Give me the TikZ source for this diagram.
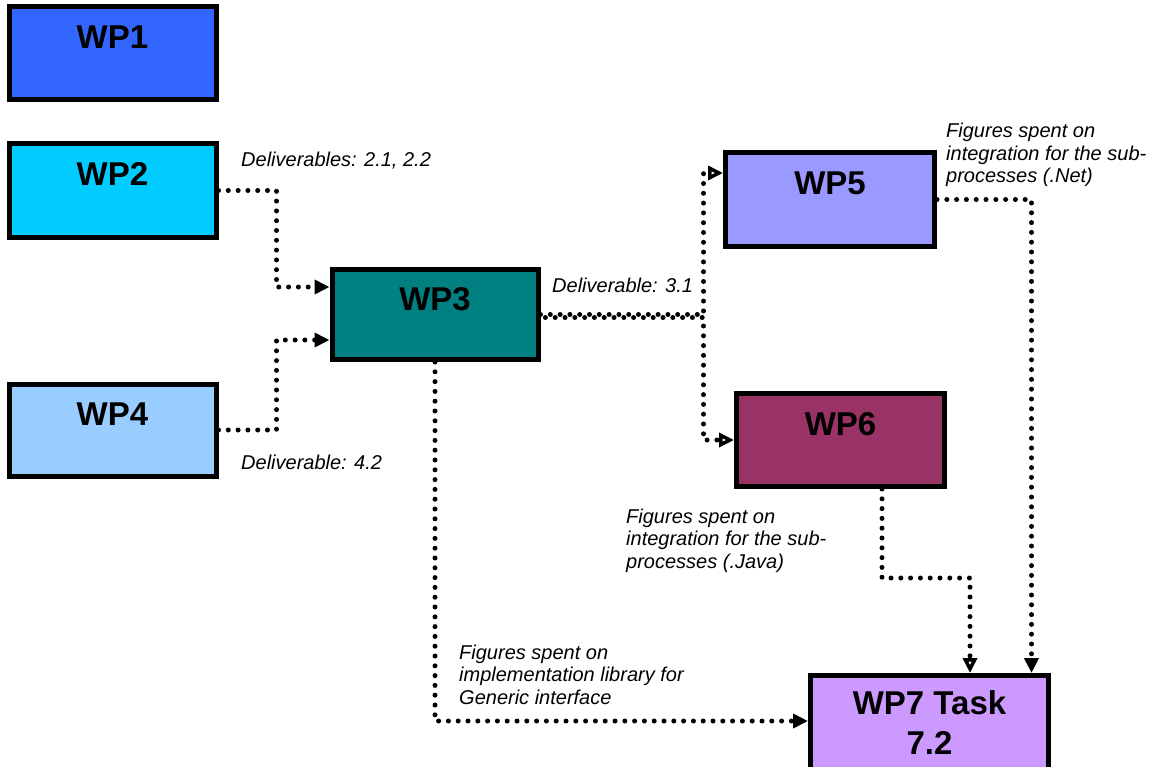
\documentclass[tikz,border=0pt]{standalone}
\usepackage{fontspec}
\setmainfont{Liberation Sans}
\usetikzlibrary{arrows.meta,calc}
\definecolor{wpone}{HTML}{3366FF}
\definecolor{wptwo}{HTML}{00CCFF}
\definecolor{wpthree}{HTML}{008080}
\definecolor{wpfour}{HTML}{99CCFF}
\definecolor{wpfive}{HTML}{9999FF}
\definecolor{wpsix}{HTML}{993366}
\definecolor{wpseven}{HTML}{CC99FF}
\tikzset{
  boxbase/.style={draw=black, line width=5pt, anchor=north west,
    font=\fontsize{33}{40}\selectfont\bfseries},
  wpbox/.style={boxbase, text height=24pt, text depth=33pt},
  link/.style={line width=5pt, line cap=round, dash pattern=on 0pt off 9.8pt},
  fhead/.style={-{Triangle[length=15pt,width=14pt]}},
  ohead/.style={-{Triangle[open,length=15pt,width=14pt,line width=3.5pt]}},
  note/.style={font=\fontsize{20}{22.3}\selectfont\itshape, anchor=base west,
    align=left, inner sep=0pt}
}
\begin{document}
\begin{tikzpicture}[x=1pt,y=-1pt]
\useasboundingbox (0,0) rectangle (1155,767);
% boxes
\node[wpbox, fill=wpone, minimum width=207pt, minimum height=93pt] (WP1) at (6.5,4.5) {WP1};
\node[wpbox, fill=wptwo, minimum width=207pt, minimum height=93pt] (WP2) at (6.5,141.5) {WP2};
\node[wpbox, fill=wpfour, minimum width=207pt, minimum height=92pt] (WP4) at (6.5,381.5) {WP4};
\node[wpbox, fill=wpthree, minimum width=206pt, minimum height=90pt] (WP3) at (329.5,267) {WP3};
\node[wpbox, fill=wpfive, minimum width=209pt, minimum height=94pt] (WP5) at (723,150) {WP5};
\node[wpbox, fill=wpsix, minimum width=208pt, minimum height=93pt] (WP6) at (734,391) {WP6};
\node[boxbase, fill=wpseven, minimum width=238pt, minimum height=95pt, align=center] (WP7) at (808,673) {WP7 Task\\7.2};
% labels (multi-line nodes: base = last line)
\node[note] (L1) at (241,167) {Deliverables: 2.1, 2.2};
\node[note] (L2) at (552,292.5) {Deliverable: 3.1};
\node[note] (L3) at (241,469) {Deliverable: 4.2};
\node[note] (L4) at (946,182.5) {Figures spent on\\integration for the sub-\\processes (.Net)};
\node[note] (L5) at (626,568) {Figures spent on\\integration for the sub-\\processes (.Java)};
\node[note] (L6) at (459,704) {Figures spent on\\implementation library for\\Generic interface};
% connectors
\draw[link, fhead] (WP2.east) -- ++(58,0) |- ([yshift=27.5pt]WP3.west);
\draw[link, fhead] (WP4.east) -- ++(58,0) |- ([yshift=-25.5pt]WP3.west);
\draw[link, ohead] (WP3.east) -- ++(163,0) |- ([yshift=26.5pt]WP5.west);
\draw[link, ohead, dash phase=4.9pt] ([yshift=-3pt]WP3.east) -- ++(163,0) |- (WP6.west);
\draw[link, fhead] (WP3.south) |- ([yshift=2pt]WP7.west);
\draw[link, ohead] ([xshift=41.5pt]WP6.south) -- ++(0,89) -| ([xshift=40.5pt]WP7.north);
\draw[link, fhead] (WP5.east) -| ([xshift=102pt]WP7.north);
\end{tikzpicture}
\end{document}
